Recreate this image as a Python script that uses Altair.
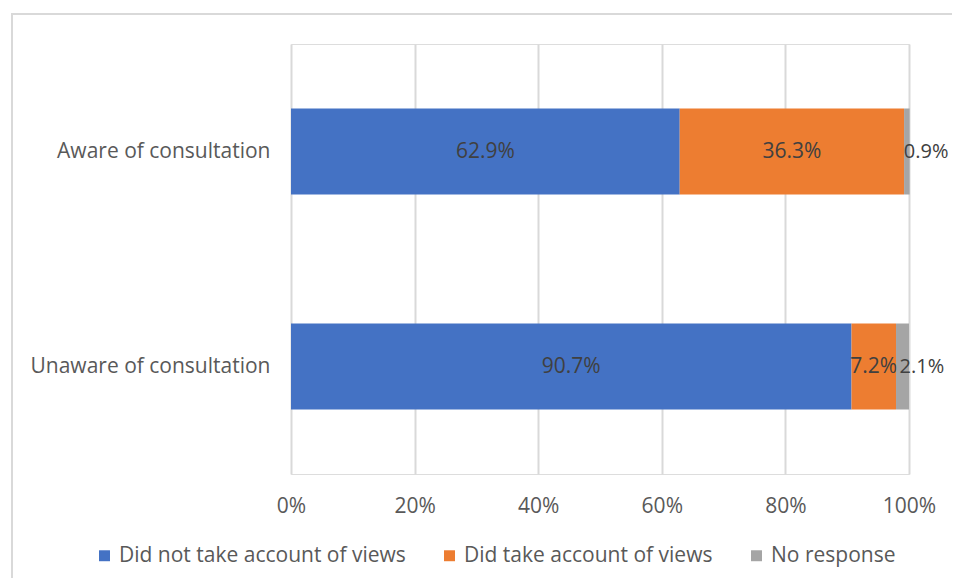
import altair as alt
import pandas as pd

categories = ["Aware of consultation", "Unaware of consultation"]
series = ["Did not take account of views", "Did take account of views", "No response"]
did_not = [62.9, 90.7]
did = [36.3, 7.2]
no_resp = [0.9, 2.1]
colors = ["#4472C4", "#ED7D31", "#A5A5A5"]

rows = []
for i, c in enumerate(categories):
    for j, (s, vals) in enumerate(zip(series, [did_not, did, no_resp])):
        rows.append({"cat": c, "series": s, "order": j, "value": vals[i],
                     "label": f"{vals[i]:.1f}%"})
df = pd.DataFrame(rows)

FONT = "Open Sans"
FS = 21

base = alt.Chart(df).transform_stack(
    stack="value", groupby=["cat"], as_=["v0", "v1"],
    sort=[alt.SortField("order", order="ascending")]
).transform_calculate(
    mid="(datum.v0 + datum.v1) / 2"
)

y_enc = alt.Y("cat:N", sort=categories, title=None,
              scale=alt.Scale(paddingInner=0.6, paddingOuter=0.3),
              axis=alt.Axis(domain=False, ticks=False, labelPadding=21,
                            labelFont=FONT, labelFontSize=FS, labelColor="#595959",
                            labelLimit=300))

bars = base.mark_bar().encode(
    x=alt.X("v0:Q", scale=alt.Scale(domain=[0, 100], nice=False),
            title=None,
            axis=alt.Axis(values=[0, 20, 40, 60, 80, 100], labelExpr="datum.value + '%'",
                          domain=False, ticks=False, grid=True, gridColor="#d9d9d9",
                          gridWidth=2, labelPadding=21, labelFlush=False, labelFont=FONT,
                          labelFontSize=FS, labelColor="#595959")),
    x2="v1:Q",
    y=y_enc,
    color=alt.Color("series:N", sort=series,
                    scale=alt.Scale(domain=series, range=colors),
                    legend=alt.Legend(title=None, orient="none", direction="horizontal",
                                      legendX=-197, legendY=501,
                                      symbolType="square", symbolSize=120,
                                      symbolStrokeWidth=0,
                                      labelFont=FONT, labelFontSize=FS,
                                      labelColor="#595959", columnPadding=33,
                                      labelLimit=400)),
)

labels_center = base.transform_filter("datum.order < 2").mark_text(
    font=FONT, fontSize=FS, color="#404040", align="center", baseline="middle"
).encode(x="mid:Q", y=alt.Y("cat:N", sort=categories), text="label:N")

labels_grey = base.transform_filter("datum.order == 2").mark_text(
    font=FONT, fontSize=20, color="#404040", align="left", baseline="middle", dx=-3
).encode(x="mid:Q", y=alt.Y("cat:N", sort=categories), text="label:N")

border = alt.Chart(pd.DataFrame({"a": [0]})).mark_rect(
    fill=None, stroke="#d9d9d9", strokeWidth=2
).encode(x=alt.value(-279), x2=alt.value(760), y=alt.value(-30), y2=alt.value(620))

chart = alt.layer(border, bars, labels_center, labels_grey).properties(
    width=618, height=430,
    autosize=alt.AutoSizeParams(type="none"),
    padding={"left": 283, "top": 36, "right": 43, "bottom": 104},
).configure_view(stroke=None).configure(background="white")

chart.save("out.html", embed_options={"renderer": "svg", "actions": False})
